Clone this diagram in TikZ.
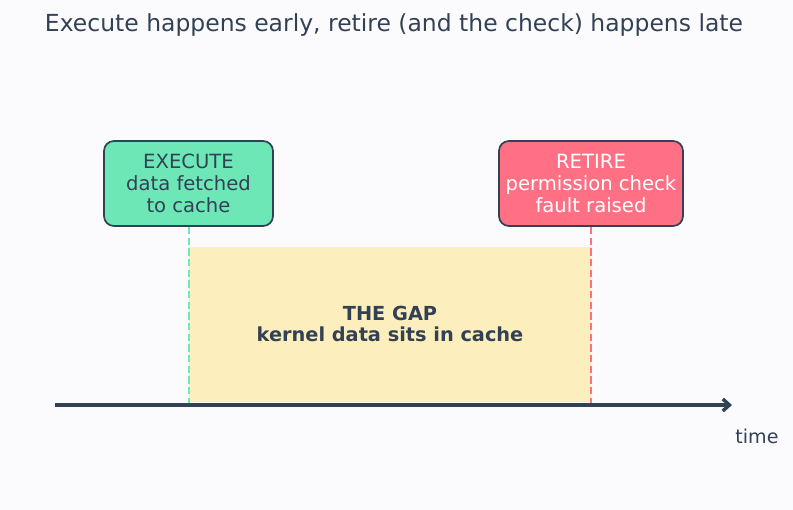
\documentclass[tikz,border=0pt]{standalone}
\usepackage{fontspec}
\setmainfont{DejaVu Sans}
\usetikzlibrary{arrows.meta}
\definecolor{ink}{HTML}{334155}
\definecolor{execgreen}{HTML}{6EE7B7}
\definecolor{retirered}{HTML}{FF7085}
\definecolor{gapyellow}{HTML}{FCEFBD}
\definecolor{bgpaper}{HTML}{FBFBFE}
\begin{document}
\begin{tikzpicture}[x=0.75pt,y=-0.75pt,
  phase/.style={draw=ink,line width=1.3pt,rounded corners=7.5pt,align=center,
    inner sep=0pt,minimum height=63.75pt,font=\fontsize{14.7}{16.5}\selectfont},
  marker/.style={line width=1.5pt,dash pattern=on 5.5pt off 2.5pt}]
  \fill[bgpaper] (0,0) rectangle (793,510);
  \node[ink,font=\fontsize{17.6}{20}\selectfont] (title) at (394,25) {Execute happens early, retire (and the check) happens late};
  % the window between the two
  \fill[gapyellow] (189,247) rectangle (591,402);
  \node[ink,align=center,font=\bfseries\fontsize{14.5}{15.75}\selectfont] (gap) at (390,323.5) {THE GAP\\kernel data sits in cache};
  \coordinate (t0) at (55,405);
  \coordinate (t1) at (732,405);
  \node[phase,fill=execgreen,text=ink,minimum width=126.75pt] (exec) at (188.5,183.5) {EXECUTE\\data fetched\\to cache};
  \node[phase,fill=retirered,text=white,minimum width=138pt] (retire) at (591,183.5) {RETIRE\\permission check\\fault raised};
  \draw[execgreen,marker] (exec.south) -- (exec.south |- t0);
  \draw[retirered,marker] (retire.south) -- (retire.south |- t0);
  \draw[ink,line width=2.6pt,-{Straight Barb[length=5pt,width=9pt]}] (t0) -- (t1);
  \node[ink,font=\fontsize{14.3}{16}\selectfont] (timelbl) at (757,436) {time};
\end{tikzpicture}
\end{document}
